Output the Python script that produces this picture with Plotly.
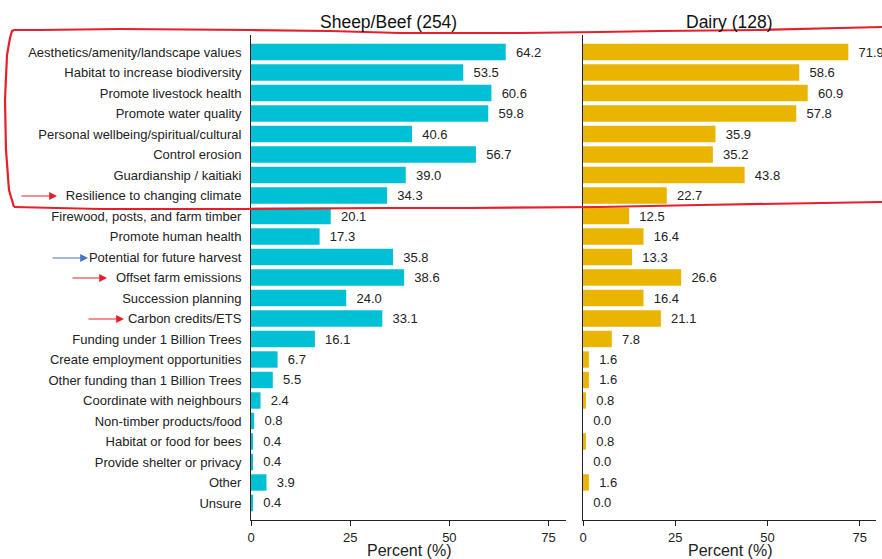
import plotly.graph_objects as go

# Reasons for planting trees, percent of farms
categories = [
    "Aesthetics/amenity/landscape values",
    "Habitat to increase biodiversity",
    "Promote livestock health",
    "Promote water quality",
    "Personal wellbeing/spiritual/cultural",
    "Control erosion",
    "Guardianship / kaitiaki",
    "Resilience to changing climate",
    "Firewood, posts, and farm timber",
    "Promote human health",
    "Potential for future harvest",
    "Offset farm emissions",
    "Succession planning",
    "Carbon credits/ETS",
    "Funding under 1 Billion Trees",
    "Create employment opportunities",
    "Other funding than 1 Billion Trees",
    "Coordinate with neighbours",
    "Non-timber products/food",
    "Habitat or food for bees",
    "Provide shelter or privacy",
    "Other",
    "Unsure",
]
sheep_beef = [64.2, 53.5, 60.6, 59.8, 40.6, 56.7, 39.0, 34.3, 20.1, 17.3, 35.8, 38.6,
              24.0, 33.1, 16.1, 6.7, 5.5, 2.4, 0.8, 0.4, 0.4, 3.9, 0.4]
dairy = [71.9, 58.6, 60.9, 57.8, 35.9, 35.2, 43.8, 22.7, 12.5, 16.4, 13.3, 26.6,
         16.4, 21.1, 7.8, 1.6, 1.6, 0.8, 0.0, 0.8, 0.0, 1.6, 0.0]
panel_titles = ["Sheep/Beef (254)", "Dairy (128)"]
x_ticks = [0, 25, 50, 75]
x_title = "Percent (%)"

W, H = 882, 559
FONT = "Liberation Sans, Arial, Helvetica, sans-serif"
CYAN = "#00C0D5"
GOLD = "#E9B500"
RED = "#E5202B"
BLUE = "#4673C8"


def fx(p):
    return p / W


def fy(p):
    return 1 - p / H


def labels(vals):
    return ["\u00a0\u00a0" + f"{v:.1f}" for v in vals]


fig = go.Figure()
fig.add_trace(go.Bar(
    y=categories, x=sheep_beef, orientation="h", marker_color=CYAN,
    marker_line_width=0, width=0.8, text=labels(sheep_beef),
    textposition="outside", constraintext="none", cliponaxis=False,
    textfont=dict(size=13, color="#222"), xaxis="x", yaxis="y",
    hoverinfo="x+y", showlegend=False,
))
fig.add_trace(go.Bar(
    y=categories, x=dairy, orientation="h", marker_color=GOLD,
    marker_line_width=0, width=0.8, text=labels(dairy),
    textposition="outside", constraintext="none", cliponaxis=False,
    textfont=dict(size=13, color="#222"), xaxis="x2", yaxis="y2",
    hoverinfo="x+y", showlegend=False,
))

ydom = [39 / H, 1 - 35 / H]
xcommon = dict(
    range=[0, 79.4], tickvals=x_ticks, ticks="outside", ticklen=5,
    tickcolor="#222", showline=True, linecolor="#222", linewidth=1,
    showgrid=False, zeroline=False, automargin=False,
    tickfont=dict(size=13, color="#222"),
)
ycommon = dict(
    categoryorder="array", categoryarray=categories,
    range=[22.83, -0.83], domain=ydom, showgrid=False, zeroline=False,
    showline=True, linecolor="#222", linewidth=1, ticks="",
    automargin=False,
)

x_domains = [[251 / W, 566 / W], [583 / W, 876 / W]]
fig.update_layout(
    width=W, height=H,
    margin=dict(l=0, r=0, t=0, b=0),
    paper_bgcolor="white", plot_bgcolor="white",
    font=dict(family=FONT, size=13, color="#222"),
    bargap=0.2,
    xaxis=dict(domain=x_domains[0], anchor="y", **xcommon),
    xaxis2=dict(domain=x_domains[1], anchor="y2", **xcommon),
    yaxis=dict(anchor="x", showticklabels=True, ticklabelstandoff=6,
               tickfont=dict(size=13, color="#222"), **ycommon),
    yaxis2=dict(anchor="x2", showticklabels=False, **ycommon),
)

# Panel titles
for title, cx in zip(panel_titles, [388, 729]):
    fig.add_annotation(
        text=title, x=fx(cx), y=fy(22), xref="paper", yref="paper",
        showarrow=False, xanchor="center", yanchor="middle",
        font=dict(size=17.5, color="#111"),
    )

# Shared x-axis title under each panel
for dom in x_domains:
    fig.add_annotation(
        text=x_title, x=(dom[0] + dom[1]) / 2, y=fy(550), xref="paper",
        yref="paper", showarrow=False, xanchor="center", yanchor="middle",
        font=dict(size=16, color="#222"),
    )

# Hand-drawn highlight around the top eight reasons
outline = [
    (14, 207), (9, 190), (6, 150), (5, 100), (7, 55), (10, 38), (12, 31),
    (14, 30), (40, 30), (120, 29), (250, 30), (330, 31), (400, 33),
    (520, 33), (600, 32), (660, 31), (760, 30), (882, 27),
]
bottom = [
    (14, 207), (100, 209), (250, 209), (380, 208), (470, 208),
    (600, 207), (700, 205), (882, 202),
]


def path_from(points):
    head = f"M {fx(points[0][0]):.5f},{fy(points[0][1]):.5f}"
    rest = " ".join(f"L {fx(px):.5f},{fy(py):.5f}" for px, py in points[1:])
    return head + " " + rest


for pts in (outline, bottom):
    fig.add_shape(type="path", path=path_from(pts), xref="paper", yref="paper",
                  line=dict(color=RED, width=2.2))

# Arrows pointing at key reasons: (tail x, head x, y, colour)
arrows = [
    (20, 57, 196, RED),
    (51, 88, 258, BLUE),
    (71, 107, 278, RED),
    (87, 124, 319, RED),
]
for x0, x1, yy, col in arrows:
    fig.add_annotation(
        x=fx(x1), y=fy(yy), xref="paper", yref="paper",
        ax=x0 - x1, ay=0, axref="pixel", ayref="pixel",
        text="", showarrow=True, arrowhead=2, arrowsize=1.3,
        arrowwidth=1.2, arrowcolor=col, standoff=0,
    )

fig.write_html("out.html")
